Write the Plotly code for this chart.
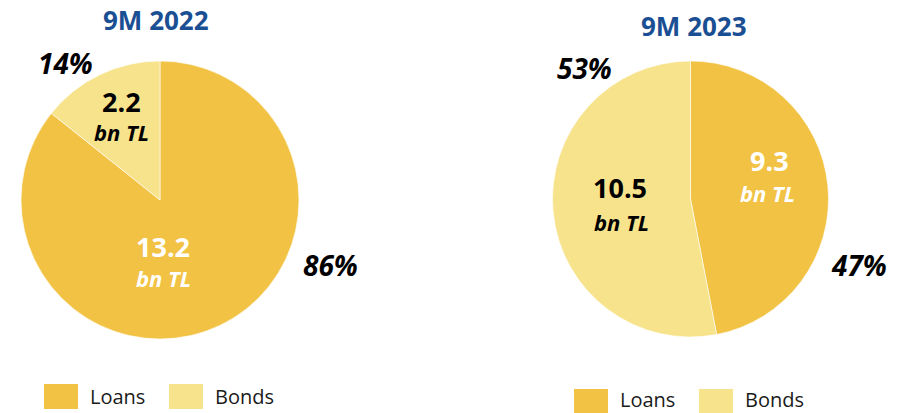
import plotly.graph_objects as go

# Portfolio split by instrument type (bn TL)
categories = ["Loans", "Bonds"]
periods = ["9M 2022", "9M 2023"]
values_2022 = [13.2, 2.2]
values_2023 = [9.3, 10.5]

colors = ["#F2C244", "#F7E38B"]
title_color = "#1B4F93"
W, H = 902, 413
FONT = "Open Sans"


def px(x):
    return x / W


def py(y):
    return 1 - y / H


fig = go.Figure()

# pie domains (pixel boxes: left, top, right, bottom)
boxes = [(21, 61, 299, 339), (552, 61, 829, 337)]
for vals, (l, t, r, b), name in zip([values_2022, values_2023], boxes, periods):
    fig.add_trace(go.Pie(
        labels=categories,
        values=vals,
        name=name,
        sort=False,
        direction="clockwise",
        rotation=0,
        textinfo="none",
        hoverinfo="label+value+percent",
        marker=dict(colors=colors, line=dict(color="white", width=0.6)),
        domain=dict(x=[px(l), px(r)], y=[py(b), py(t)]),
        showlegend=False,
    ))

annotations = []


def add_text(x, y, text, size, color="black", bold=True, italic=False):
    t = text
    if bold:
        t = f"<b>{t}</b>"
    if italic:
        t = f"<i>{t}</i>"
    annotations.append(dict(
        x=px(x), y=py(y), xref="paper", yref="paper", text=t, showarrow=False,
        xanchor="center", yanchor="middle", borderpad=0,
        font=dict(family=FONT, size=size, color=color),
    ))


# titles
add_text(156, 20, periods[0], 26, title_color)
add_text(694, 26, periods[1], 26, title_color)

# value and share labels
label_pos = {
    0: {"Loans": ((163, 246), (163, 278), "white", (330, 265)),
        "Bonds": ((121, 101), (121, 132), "black", (65, 63))},
    1: {"Loans": ((769, 160), (767, 193), "white", (859, 265)),
        "Bonds": ((620, 187), (621, 222), "black", (584, 68))},
}
for i, vals in enumerate([values_2022, values_2023]):
    total = sum(vals)
    for cat, v in zip(categories, vals):
        (vx, vy), (ux, uy), col, (sx, sy) = label_pos[i][cat]
        add_text(vx, vy, f"{v:.1f}", 27, col)
        add_text(ux, uy, "bn TL", 22, col, italic=True)
        add_text(sx, sy, f"{round(100 * v / total)}%", 28, "black", italic=True)

# legends under each pie
shapes = []
legend_rows = [
    [(44, 384, 89), (169, 384, 214)],
    [(574, 389, 619), (699, 389, 744)],
]
for row in legend_rows:
    for cat, col, (sx, sy, tx) in zip(categories, colors, row):
        shapes.append(dict(type="rect", xref="paper", yref="paper",
                           x0=px(sx), x1=px(sx + 34), y0=py(sy + 25), y1=py(sy),
                           fillcolor=col, line=dict(width=0)))
        annotations.append(dict(
            x=px(tx), y=py(min(sy + 12, 399)), xref="paper", yref="paper",
            text=cat, showarrow=False, xanchor="left", yanchor="middle",
            borderpad=0,
            font=dict(family=FONT, size=20, color="#1a1a1a"),
        ))

fig.update_layout(
    width=W, height=H,
    margin=dict(l=0, r=0, t=0, b=0),
    paper_bgcolor="white", plot_bgcolor="white",
    annotations=annotations, shapes=shapes,
)

fig.write_html("out.html")
